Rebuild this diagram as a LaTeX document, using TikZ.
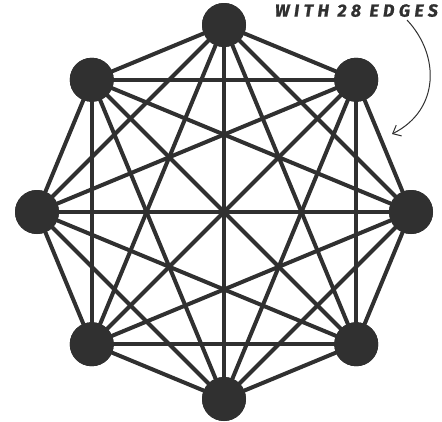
\documentclass[tikz,border=0pt]{standalone}
\usepackage{fontspec}
\newfontfamily\notefont{Fira Sans}[LetterSpace=26,BoldItalicFeatures={FakeBold=1.2}]
\usetikzlibrary{arrows.meta}
\definecolor{ink}{HTML}{303030}
\begin{document}
\begin{tikzpicture}[x=1pt,y=-1pt,
  vertex/.style={circle,fill=ink,inner sep=0pt,minimum size=44pt},
  edge/.style={draw=ink,line width=4pt},
  note/.style={text=ink,font=\notefont\bfseries\itshape\fontsize{17.5}{19}\selectfont,inner sep=0pt},
  pointer/.style={draw=ink,line width=1pt,-{Straight Barb[length=7pt,width=12pt]}}]
\useasboundingbox (0,0) rectangle (442,421);
\foreach \i in {0,...,7}{
  \node[vertex] (n\i) at ({224+187*sin(45*\i)},{212-187*cos(45*\i)}) {};
}
\foreach \i in {0,...,6}{
  \pgfmathtruncatemacro{\s}{\i+1}
  \foreach \j in {\s,...,7}{
    \draw[edge] (n\i.center) -- (n\j.center);
  }
}
\foreach \i in {0,...,7}{
  \node[vertex] at (n\i) {};
}
\node[note,anchor=north east] (t) at (438,4) {WITH 28 EDGES};
\coordinate (tip) at (392,134);
\draw[pointer] (407,20) .. controls (440,55) and (440,110) .. (tip);
\end{tikzpicture}
\end{document}
